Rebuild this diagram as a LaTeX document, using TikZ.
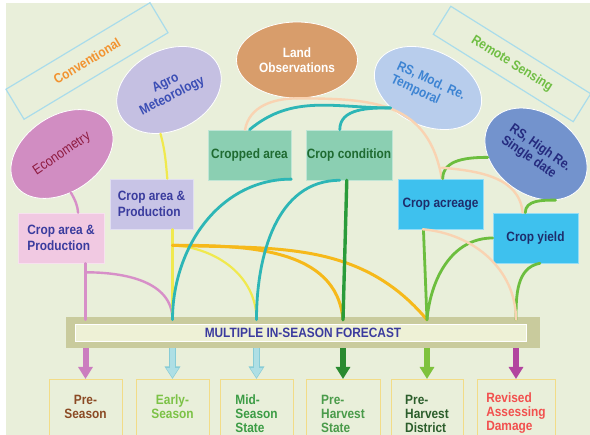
\documentclass[tikz,border=0pt]{standalone}
\usepackage{fontspec}
\setmainfont{Liberation Sans}[FakeStretch=0.88]
\usetikzlibrary{calc}
\usetikzlibrary{arrows.meta}
\usetikzlibrary{shapes.geometric}

\definecolor{bgc}{HTML}{E9EFDA}
\definecolor{grpline}{HTML}{A9DCEB}
\definecolor{convtxt}{HTML}{F29330}
\definecolor{rstxt}{HTML}{70BE44}
\definecolor{econfill}{HTML}{D18DC2}
\definecolor{econtxt}{HTML}{8E1B40}
\definecolor{agrofill}{HTML}{C5C0E2}
\definecolor{agrotxt}{HTML}{3B4EB5}
\definecolor{landfill}{HTML}{D89D6B}
\definecolor{modfill}{HTML}{B8CDEC}
\definecolor{modtxt}{HTML}{3D84D3}
\definecolor{highfill}{HTML}{7393CD}
\definecolor{hightxt}{HTML}{252B7F}
\definecolor{pinkbox}{HTML}{F1C9E2}
\definecolor{lavbox}{HTML}{C8C4E6}
\definecolor{boxtxt}{HTML}{3A3C9E}
\definecolor{greenbox}{HTML}{8BCFB2}
\definecolor{greentxt}{HTML}{1F6B31}
\definecolor{bluebox}{HTML}{3EC1EE}
\definecolor{bluetxt}{HTML}{1E2D6B}
\definecolor{barc}{HTML}{C9CB9D}
\definecolor{barin}{HTML}{EEF1D6}
\definecolor{bartxt}{HTML}{3B3B9E}
\definecolor{outline}{HTML}{F2DC87}
\definecolor{txtpre}{HTML}{8B4A24}
\definecolor{txtearly}{HTML}{7CC246}
\definecolor{txtmid}{HTML}{3C9C45}
\definecolor{txtphs}{HTML}{4A9B4A}
\definecolor{txtphd}{HTML}{2C5E2C}
\definecolor{txtdmg}{HTML}{F2504E}
\definecolor{linkpink}{HTML}{D78FC8}
\definecolor{linkyel}{HTML}{F0E94E}
\definecolor{linkor}{HTML}{F6B91A}
\definecolor{linkteal}{HTML}{2DB6B6}
\definecolor{linkdg}{HTML}{2A9B3A}
\definecolor{linkgr}{HTML}{6CBE3E}
\definecolor{linkpeach}{HTML}{F9D3B2}
\definecolor{arrpink}{HTML}{CB7DBF}
\definecolor{arrcyan}{HTML}{AEDFE5}
\definecolor{arrcyanln}{HTML}{88CCD6}
\definecolor{arrdg}{HTML}{2A8A30}
\definecolor{arrgr}{HTML}{7EC23D}
\definecolor{arrmag}{HTML}{B2459F}

\tikzset{
  ell/.style={ellipse, draw=white, line width=.8pt, inner sep=0pt, align=center,
    font=\fontsize{13.5}{14.5}\selectfont\bfseries},
  grp/.style={draw=grpline, line width=1.2pt, inner sep=0pt,
    font=\fontsize{13.5}{15}\selectfont\bfseries},
  cbox/.style={draw=white!45!#1, fill=#1, line width=.6pt, minimum height=50pt,
    inner xsep=0pt, font=\fontsize{13.5}{15.5}\selectfont\bfseries},
  outbox/.style={draw=outline, line width=1pt, anchor=north, minimum height=68pt,
    font=\fontsize{13.5}{14}\selectfont\bfseries},
  blk/.style={line width=6pt, -{Triangle[width=14pt,length=12pt]}},
  blkout/.style={draw=arrcyan, line width=4.6pt, shorten >=1.3pt,
    -{Triangle[width=11.5pt,length=9.5pt]},
    preaction={draw=arrcyanln, line width=7pt, shorten >=0pt,
      -{Triangle[width=15pt,length=12.5pt]}}},
  pinklink/.style={draw=linkpink, line width=2.4pt, line cap=round},
  yellink/.style={draw=linkyel, line width=2.2pt, line cap=round},
  orlink/.style={draw=linkor, line width=3pt, line cap=round},
  teallink/.style={draw=linkteal, line width=2.8pt, line cap=round},
  dglink/.style={draw=linkdg, line width=3.4pt, line cap=round},
  grlink/.style={draw=linkgr, line width=2.8pt, line cap=round},
  peachlink/.style={draw=linkpeach, line width=2.4pt, line cap=round}
}

\begin{document}
\begin{tikzpicture}[x=1pt, y=1pt]
\useasboundingbox (0,0) rectangle (590,-435);
\fill[bgc] (6,-3) rectangle (590,-435);

% groups
\node[grp, minimum width=168pt, minimum height=35pt, rotate=31, text=convtxt] (conv) at (87,-61) {Conventional};
\node[grp, minimum width=165pt, minimum height=33pt, rotate=-32, text=rstxt] (rsens) at (512,-64) {Remote Sensing};

% sources
\node[ell, fill=econfill, text=econtxt, minimum width=112pt, minimum height=76pt, rotate=34,
  font=\fontsize{14}{15}\selectfont] (econ) at (62,-154) {Econometry};
\node[ell, fill=agrofill, text=agrotxt, minimum width=110pt, minimum height=80pt, rotate=27] (agro) at (169,-90) {Agro\\Meteorology};
\node[ell, fill=landfill, text=white, minimum width=121pt, minimum height=76pt] (land) at (297,-60) {Land\\Observations};
\node[ell, fill=modfill, text=modtxt, minimum width=113pt, minimum height=75pt, rotate=-25, align=left] (rsmod) at (428,-88) {RS, Mod. Re.\\Temporal};
\node[ell, fill=highfill, text=hightxt, minimum width=111pt, minimum height=81pt, rotate=-35, align=left] (rshigh) at (536,-154) {RS, High Re.\\Single date};

% products
\node[cbox=pinkbox, minimum width=86pt, text=boxtxt, align=left] (ecobox) at (61,-238) {Crop area \&\\Production};
\node[cbox=lavbox, minimum width=83pt, text=boxtxt, align=left] (agrobox) at (151.5,-204) {Crop area \&\\Production};
\node[cbox=greenbox, minimum width=83pt, text=greentxt] (croparea) at (249.5,-155) {Cropped area};
\node[cbox=greenbox, minimum width=86pt, text=greentxt] (cropcond) at (349,-155) {Crop condition};
\node[cbox=bluebox, minimum width=85pt, text=bluetxt] (acreage) at (440.5,-204) {Crop acreage};
\node[cbox=bluebox, minimum width=85pt, text=bluetxt] (yield) at (535.5,-238) {Crop yield};

% forecast bar
\node[fill=barc, minimum width=474pt, minimum height=31pt, inner sep=0pt, text=bartxt,
  font=\fontsize{13.5}{14}\selectfont\bfseries,
  path picture={\draw[white, line width=.6pt, fill=barin]
    ([shift={(9pt,-7pt)}]path picture bounding box.north west) rectangle
    ([shift={(-14pt,7pt)}]path picture bounding box.south east);}]
  (forecast) at (303,-332.5) {MULTIPLE IN-SEASON FORECAST};

% outputs
\foreach \n/\x/\col/\txt in {pre/85.5/txtpre/{Pre-\\Season\\~}, early/172.5/txtearly/{Early-\\Season\\~}}
  \node[outbox, minimum width=73pt, align=center, text=\col] (\n) at (\x,-379) {\txt};
\foreach \n/\x/\w/\col/\txt in {mid/256.5/73/txtmid/{Mid-\\Season\\State},
    phs/343/74/txtphs/{Pre-\\Harvest\\State}, phd/427/72/txtphd/{Pre-\\Harvest\\District},
    dmg/516/78/txtdmg/{Revised\\Assessing\\Damage}}
  \node[outbox, minimum width=\w pt, align=left, text=\col] (\n) at (\x,-379) {\txt};

\foreach \n/\col in {pre/arrpink, phs/arrdg, phd/arrgr, dmg/arrmag}
  \draw[blk, draw=\col] (\n |- forecast.south) -- (\n.north);
\foreach \n in {early, mid}
  \draw[blkout] (\n |- forecast.south) -- (\n.north);

% landing points on the bar
\foreach \n/\f in {pre/f1, early/f2, mid/f3, phs/f4, phd/f5, dmg/f6}
  \coordinate (\f) at ($(\n |- forecast.north)+(0,-3)$);
\coordinate (pj) at ($(ecobox.south -| f1)+(0,-9)$);
\coordinate (yj) at ($(agrobox.south -| f2)+(0,-16)$);
\coordinate (pj2) at ($(acreage.87)+(0,11)$);

% conventional links
\draw[pinklink] (econ.-111) to[out=-60,in=95] (ecobox.56);
\draw[pinklink] (ecobox.south -| f1) -- (f1);
\draw[pinklink] (pj) to[out=0,in=90] (f2);
\draw[yellink] (agro.-128) to[out=-75,in=95] (agrobox.58);
\draw[yellink] (agrobox.south -| f2) -- (f2);
\draw[yellink] (yj) to[out=-3,in=90] (f3);
\draw[orlink] (yj) to[out=0,in=95] (f4);
\draw[orlink] (yj) to[out=-2,in=130] (f5);

% land and remote sensing links
\draw[peachlink] (land.south) to[out=180,in=80] (croparea.100);
\draw[peachlink] (land.south) to[out=0,in=100,looseness=1.2] (acreage.87);
\draw[teallink] (rsmod.-127) to[out=180,in=40] (croparea.north);
\draw[teallink] (rsmod.-127) to[out=180,in=90] (cropcond.110);
\draw[teallink] (croparea.-30) to[out=180,in=90] (f2);
\draw[teallink] (cropcond.-110) to[out=180,in=90] (f3);
\draw[dglink] (cropcond.-95) -- (f4);
\draw[grlink] (rshigh.-141) to[out=180,in=90] (acreage.85);
\draw[grlink] (rshigh.-32) to[out=180,in=90] (yield.112);
\draw[peachlink] (pj2) to[out=-5,in=95] (yield.117);
\draw[grlink] (acreage.-124) -- (f5);
\draw[grlink] (yield.west) to[out=180,in=85] (f5);
\draw[grlink] (yield.-80) to[out=190,in=90] (f6);
\draw[peachlink] (acreage.-125) to[out=-5,in=90] (f6);
\end{tikzpicture}
\end{document}
